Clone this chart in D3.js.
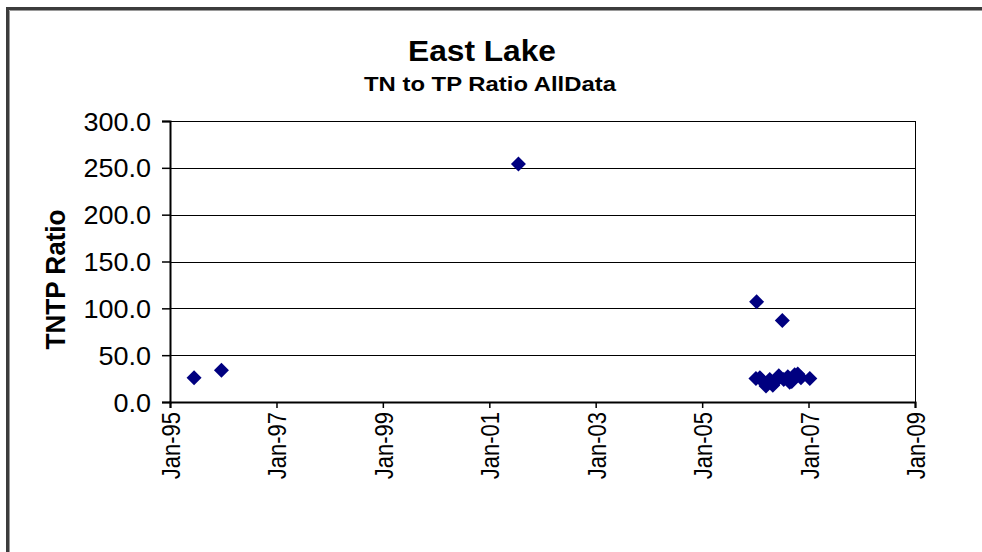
<!DOCTYPE html>
<html>
<head>
<meta charset="utf-8">
<script src="https://cdn.jsdelivr.net/npm/d3@7"></script>
<style>
  html, body { margin: 0; padding: 0; background: #fff; }
  svg { display: block; font-family: "Liberation Sans", Arial, sans-serif; }
</style>
</head>
<body>
<svg id="chart" width="982" height="552"></svg>
<script>
// Sample dates and TN:TP ratios
const sampleDates = [
  "1995-06-15", "1995-12-20", "2001-07-20",
  "2006-01-10", "2006-07-05",
  "2006-01-05", "2006-02-01", "2006-02-22", "2006-03-15", "2006-04-10",
  "2006-05-01", "2006-05-20", "2006-06-11", "2006-07-15", "2006-08-12",
  "2006-08-25", "2006-09-08", "2006-09-28", "2006-10-19", "2006-11-10",
  "2007-01-10"
];
const tntpRatio = [
  26, 34, 254,
  107, 87,
  25, 26, 22, 17, 24,
  18, 22, 28, 24, 27,
  21, 22, 29, 30, 26,
  25
];
const yTicks = [0, 50, 100, 150, 200, 250, 300];
const xTickDates = ["1995-01-01", "1997-01-01", "1999-01-01", "2001-01-01",
                    "2003-01-01", "2005-01-01", "2007-01-01", "2009-01-01"];
const titleText = "East Lake";
const subtitleText = "TN to TP Ratio AllData";
const yAxisTitle = "TNTP Ratio";

const parse = d3.timeParse("%Y-%m-%d");
const points = sampleDates.map((d, i) => ({ date: parse(d), value: tntpRatio[i] }));

const svg = d3.select("#chart");
const plot = { left: 170, right: 915, top: 121, bottom: 402 };
const font = "Liberation Sans, Arial, sans-serif";

// Outer chart frame (only the top and left edges fall inside the page)
svg.append("rect")
  .attr("x", 7.5).attr("y", 8.5).attr("width", 1100).attr("height", 700)
  .attr("fill", "none").attr("stroke", "#3c3c3c").attr("stroke-width", 3);
svg.append("path")
  .attr("d", "M9.5,1000V10.5H1000")
  .attr("fill", "none").attr("stroke", "#9a9a9a").attr("stroke-width", 1);

const x = d3.scaleTime()
  .domain([parse("1995-01-01"), parse("2009-01-01")])
  .range([plot.left, plot.right]);
const y = d3.scaleLinear().domain([0, 300]).range([plot.bottom, plot.top]);

// Horizontal gridlines
svg.append("g").selectAll("line")
  .data(yTicks.filter(v => v > 0))
  .join("line")
  .attr("x1", plot.left).attr("x2", plot.right)
  .attr("y1", d => Math.round(y(d)) + 0.5).attr("y2", d => Math.round(y(d)) + 0.5)
  .attr("stroke", "#000").attr("stroke-width", 1);

// Right border of the plot area
svg.append("line")
  .attr("x1", plot.right + 0.5).attr("x2", plot.right + 0.5)
  .attr("y1", plot.top).attr("y2", plot.bottom)
  .attr("stroke", "#000").attr("stroke-width", 1);

// Y axis
const yAxis = d3.axisLeft(y).tickValues(yTicks).tickFormat(d3.format(".1f"))
  .tickSizeOuter(0).tickSize(8).tickPadding(11);
const gy = svg.append("g").attr("transform", `translate(${plot.left},0)`).call(yAxis);
gy.select(".domain").attr("stroke", "#000").attr("stroke-width", 2);
gy.selectAll(".tick line").attr("stroke", "#000").attr("stroke-width", 1.5);
gy.selectAll(".tick text")
  .attr("font-family", font)
  .attr("font-size", 25).attr("fill", "#000")
  .attr("dy", "0.36em")
  .each(function () {
    // widen each label slightly, in proportion to its own length
    const w = this.getComputedTextLength();
    d3.select(this).attr("textLength", w * 1.08).attr("lengthAdjust", "spacingAndGlyphs");
  });

// X axis
const xAxis = d3.axisBottom(x).tickValues(xTickDates.map(parse))
  .tickFormat(d3.timeFormat("%b-%y")).tickSizeOuter(0).tickSize(6).tickPadding(8);
const gx = svg.append("g").attr("transform", `translate(0,${plot.bottom})`).call(xAxis);
gx.select(".domain").attr("stroke", "#000").attr("stroke-width", 2);
gx.selectAll(".tick line").attr("stroke", "#000").attr("stroke-width", 1.5);
gx.selectAll(".tick text")
  .attr("font-family", font)
  .attr("font-size", 22).attr("fill", "#000")
  .attr("text-anchor", "end")
  .attr("transform", "rotate(-90) scale(1,1.2)")
  .attr("x", -10).attr("y", 0).attr("dy", "0.36em");

// Diamond markers
svg.append("g").selectAll("path")
  .data(points)
  .join("path")
  .attr("transform", d => `translate(${x(d.date)},${y(d.value)})`)
  .attr("d", "M0,-7.5L7.5,0L0,7.5L-7.5,0Z")
  .attr("fill", "#000080");

// Titles
svg.append("text")
  .attr("x", 482).attr("y", 61)
  .attr("text-anchor", "middle")
  .attr("font-family", font)
  .attr("font-size", 30).attr("font-weight", "bold").attr("fill", "#000")
  .attr("textLength", 148).attr("lengthAdjust", "spacingAndGlyphs")
  .text(titleText);
svg.append("text")
  .attr("x", 490).attr("y", 91)
  .attr("text-anchor", "middle")
  .attr("font-family", font)
  .attr("font-size", 21).attr("font-weight", "bold").attr("fill", "#000")
  .attr("textLength", 252).attr("lengthAdjust", "spacingAndGlyphs")
  .text(subtitleText);

// Y axis title
svg.append("text")
  .attr("transform", `translate(65,${(plot.top + plot.bottom) / 2 + 18}) rotate(-90) scale(1,1.1)`)
  .attr("text-anchor", "middle")
  .attr("font-family", font)
  .attr("font-size", 25).attr("font-weight", "bold").attr("fill", "#000")
  .attr("textLength", 140).attr("lengthAdjust", "spacingAndGlyphs")
  .text(yAxisTitle);
</script>
</body>
</html>
